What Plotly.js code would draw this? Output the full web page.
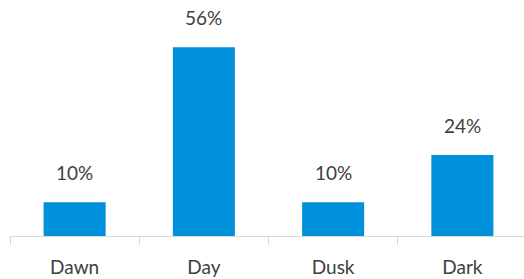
<!DOCTYPE html>
<html>
<head>
<meta charset="utf-8">
<script src="https://cdn.plot.ly/plotly-3.0.1.min.js"></script>
<style>
html,body{margin:0;padding:0;overflow:hidden;background:#fff;}
#chart{width:527px;height:279px;}
</style>
</head>
<body>
<div id="chart"></div>
<script>
const categories = ["Dawn", "Day", "Dusk", "Dark"];
const shares = [10, 56, 10, 24];
const labels = ["10%", "56%", "10%", "24%"];

const trace = {
  type: "bar",
  x: categories,
  y: shares,
  marker: {color: "#0091da"},
  hoverinfo: "skip"
};

const annotations = categories.map((c, i) => ({
  x: c, y: shares[i], text: labels[i],
  showarrow: false, yanchor: "bottom", yshift: 16,
  font: {family: "Lato, 'Open Sans', sans-serif", size: 19, color: "#404040"}
}));

const layout = {
  width: 527, height: 279,
  margin: {l: 10, r: 0, t: 0, b: 43},
  paper_bgcolor: "#fff", plot_bgcolor: "#fff",
  bargap: 0.52,
  showlegend: false,
  font: {family: "Lato, 'Open Sans', sans-serif", size: 19, color: "#404040"},
  xaxis: {
    type: "category",
    showline: true, linecolor: "#d9d9d9", linewidth: 1,
    ticks: "outside", tickson: "boundaries", ticklen: 8, tickcolor: "#d9d9d9", tickwidth: 1,
    ticklabelstandoff: 14,
    showgrid: false, zeroline: false,
    tickfont: {family: "Lato, 'Open Sans', sans-serif", size: 19, color: "#404040"}
  },
  yaxis: {range: [0, 70], visible: false, showgrid: false, zeroline: false},
  annotations: annotations
};

Plotly.newPlot("chart", [trace], layout, {displayModeBar: false, staticPlot: true});
</script>
</body>
</html>
